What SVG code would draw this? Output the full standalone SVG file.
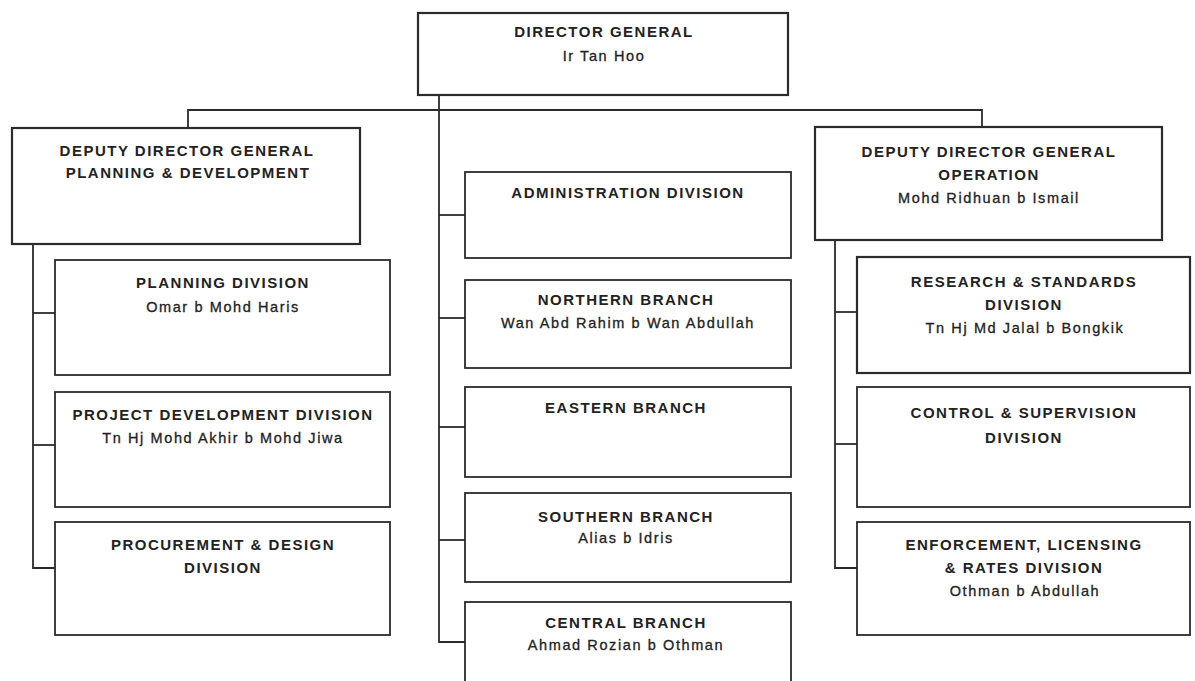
<svg xmlns="http://www.w3.org/2000/svg" width="1195" height="681" viewBox="0 0 1195 681">
  <style>
    .box { fill: #ffffff; stroke: #2b2b2b; stroke-width: 1.8; }
    .head { stroke-width: 2.2; }
    .link { fill: none; stroke: #2b2b2b; stroke-width: 1.8; }
    text { font-family: "Liberation Sans", Arial, sans-serif; fill: #222222; text-anchor: middle; }
    .t { font-size: 15px; font-weight: bold; letter-spacing: 1.5px; }
    .n { font-size: 14.5px; letter-spacing: 1.6px; stroke: #222222; stroke-width: 0.3px; }
  </style>
  <rect width="1195" height="681" fill="#ffffff"/>

  <!-- connectors -->
  <g id="connectors">
    <!-- director to the three columns -->
    <path class="link" d="M439,95 V642 H465"/>
    <path class="link" d="M188,128 V110 H982 V127"/>
    <!-- middle column branches -->
    <path class="link" d="M439,215 H465"/>
    <path class="link" d="M439,318 H465"/>
    <path class="link" d="M439,427 H465"/>
    <path class="link" d="M439,540 H465"/>
    <!-- left column -->
    <path class="link" d="M33,244 V568 H55"/>
    <path class="link" d="M33,313 H55"/>
    <path class="link" d="M33,445 H55"/>
    <!-- right column -->
    <path class="link" d="M835,240 V568 H857"/>
    <path class="link" d="M835,312 H857"/>
    <path class="link" d="M835,444 H857"/>
  </g>

  <g id="director-general">
    <rect class="box head" x="418" y="13" width="370" height="82"/>
    <text class="t" x="604" y="37">DIRECTOR GENERAL</text>
    <text class="n" x="604" y="61">Ir Tan Hoo</text>
  </g>

  <g id="ddg-planning">
    <rect class="box head" x="12" y="128" width="348" height="116"/>
    <text class="t" x="187" y="156">DEPUTY DIRECTOR GENERAL</text>
    <text class="t" x="188" y="178">PLANNING &amp; DEVELOPMENT</text>
  </g>

  <g id="ddg-operation">
    <rect class="box head" x="815" y="127" width="347" height="113"/>
    <text class="t" x="989" y="157">DEPUTY DIRECTOR GENERAL</text>
    <text class="t" x="989" y="180">OPERATION</text>
    <text class="n" x="989" y="203">Mohd Ridhuan b Ismail</text>
  </g>

  <g id="planning-division">
    <rect class="box" x="55" y="260" width="335" height="115"/>
    <text class="t" x="223" y="288">PLANNING DIVISION</text>
    <text class="n" x="223" y="312">Omar b Mohd Haris</text>
  </g>

  <g id="project-development-division">
    <rect class="box" x="55" y="392" width="335" height="115"/>
    <text class="t" x="223" y="420">PROJECT DEVELOPMENT DIVISION</text>
    <text class="n" x="223" y="443">Tn Hj Mohd Akhir b Mohd Jiwa</text>
  </g>

  <g id="procurement-design-division">
    <rect class="box" x="55" y="522" width="335" height="113"/>
    <text class="t" x="223" y="550">PROCUREMENT &amp; DESIGN</text>
    <text class="t" x="223" y="573">DIVISION</text>
  </g>

  <g id="administration-division">
    <rect class="box" x="465" y="172" width="326" height="86"/>
    <text class="t" x="628" y="198">ADMINISTRATION DIVISION</text>
  </g>

  <g id="northern-branch">
    <rect class="box" x="465" y="280" width="326" height="88"/>
    <text class="t" x="626" y="305">NORTHERN BRANCH</text>
    <text class="n" x="628" y="328">Wan Abd Rahim b Wan Abdullah</text>
  </g>

  <g id="eastern-branch">
    <rect class="box" x="465" y="387" width="326" height="90"/>
    <text class="t" x="626" y="413">EASTERN BRANCH</text>
  </g>

  <g id="southern-branch">
    <rect class="box" x="465" y="493" width="326" height="89"/>
    <text class="t" x="626" y="522">SOUTHERN BRANCH</text>
    <text class="n" x="626" y="543">Alias b Idris</text>
  </g>

  <g id="central-branch">
    <rect class="box" x="465" y="602" width="326" height="90"/>
    <text class="t" x="626" y="628">CENTRAL BRANCH</text>
    <text class="n" x="626" y="650">Ahmad Rozian b Othman</text>
  </g>

  <g id="research-standards-division">
    <rect class="box head" x="857" y="257" width="333" height="116"/>
    <text class="t" x="1024" y="287">RESEARCH &amp; STANDARDS</text>
    <text class="t" x="1024" y="310">DIVISION</text>
    <text class="n" x="1025" y="333">Tn Hj Md Jalal b Bongkik</text>
  </g>

  <g id="control-supervision-division">
    <rect class="box" x="857" y="387" width="333" height="120"/>
    <text class="t" x="1024" y="418">CONTROL &amp; SUPERVISION</text>
    <text class="t" x="1024" y="443">DIVISION</text>
  </g>

  <g id="enforcement-licensing-rates-division">
    <rect class="box" x="857" y="522" width="333" height="113"/>
    <text class="t" x="1024" y="550">ENFORCEMENT, LICENSING</text>
    <text class="t" x="1024" y="573">&amp; RATES DIVISION</text>
    <text class="n" x="1025" y="596">Othman b Abdullah</text>
  </g>
</svg>
